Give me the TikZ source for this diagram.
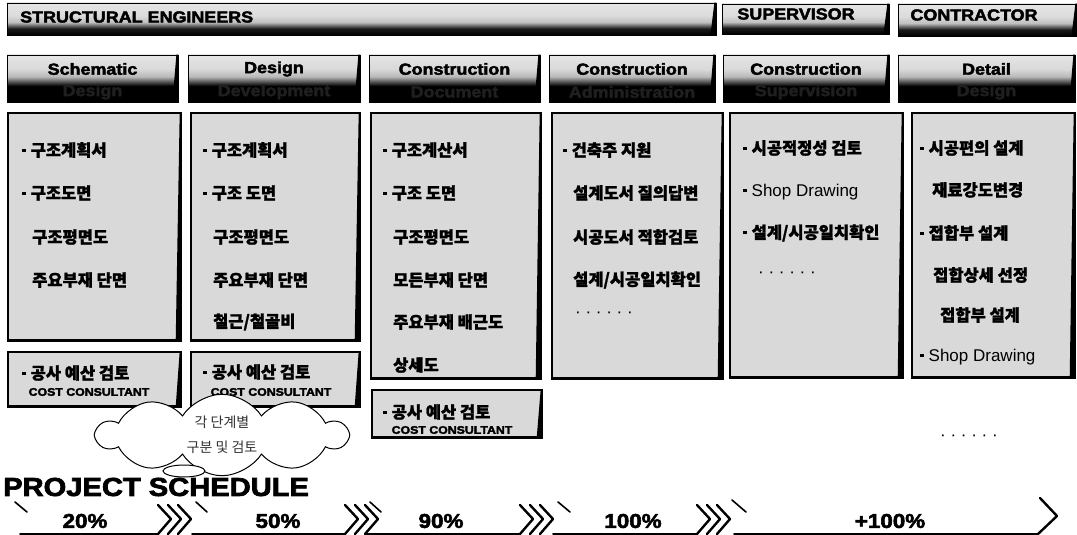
\documentclass[tikz,border=0pt]{standalone}
\usepackage{fontspec}
\usepackage{graphicx}
\setmainfont{Liberation Sans}
\newfontfamily\ko{Noto Sans CJK KR}[BoldFeatures={FakeBold=1.5}]
\newfontfamily\heavy{Liberation Sans Bold}[FakeBold=2.5]
\usetikzlibrary{shapes.symbols,shapes.geometric}
\pgfdeclareverticalshading{hdrshade}{100bp}{color(0bp)=(black); color(25bp)=(black); color(42bp)=(black); color(52bp)=(gray!55); color(60bp)=(gray!30); color(75bp)=(gray!20); color(100bp)=(gray!20)}
\pgfdeclareverticalshading{barshade}{100bp}{color(0bp)=(black); color(25bp)=(black); color(35bp)=(black!90); color(45bp)=(gray!50); color(55bp)=(gray!28); color(75bp)=(gray!20); color(100bp)=(gray!20)}
\newcommand{\bul}{\rule[0.25em]{3.5pt}{3.5pt}\hspace{5pt}}
\newcommand{\hv}[1]{\scalebox{1.12}[1]{#1}}
\tikzset{
  hdrbox/.style={rectangle, shade, shading=hdrshade, draw=black, line width=0.8pt, inner sep=0},
  barbox/.style={rectangle, shade, shading=barshade, draw=black, line width=0.8pt, inner sep=0},
  cbox/.style={rectangle, fill=gray!30, draw=black, line width=1.4pt, inner sep=0},
  item/.style={anchor=west, inner sep=0, font=\ko\bfseries\fontsize{16.5}{18}\selectfont},
  latitem/.style={anchor=west, inner sep=0, font=\fontsize{17}{19}\selectfont},
  hdrtxt/.style={inner sep=0, font=\heavy\fontsize{16}{18}\selectfont},
  hdrtxtb/.style={inner sep=0, text=black!88, font=\heavy\fontsize{16}{18}\selectfont},
  costtxt/.style={inner sep=0, font=\heavy\fontsize{11}{12}\selectfont},
  dots/.style={anchor=west, inner sep=0, font=\fontsize{17}{19}\selectfont},
  pct/.style={inner sep=0, font=\heavy\fontsize{20}{22}\selectfont},
  chev/.style={line width=2.4pt, line cap=round, line join=round},
  baseln/.style={line width=1.6pt, line cap=round},
  tick/.style={line width=1.6pt, line cap=round}
}
\begin{document}
\begin{tikzpicture}[x=1pt,y=-1pt]
\useasboundingbox[fill=white] (0,0) rectangle (1077,535);

% ---- top role bars
\node[barbox, minimum width=709pt, minimum height=32pt] (se) at (361.5,19) {};
\node[barbox, minimum width=167pt, minimum height=30pt] (sup) at (805.5,19) {};
\node[barbox, minimum width=179pt, minimum height=32pt] (con) at (987.5,20) {};
\node[hdrtxt, anchor=west] (set) at (20,17) {\hv{STRUCTURAL ENGINEERS}};
\node[hdrtxt] (supt) at (796,14) {\hv{SUPERVISOR}};
\node[hdrtxt] (cont) at (974,15) {\hv{CONTRACTOR}};

% ---- phase headers
\node[hdrbox, minimum width=171pt, minimum height=47pt] (h1) at (92.5,78.5) {};
\node[hdrbox, minimum width=172pt, minimum height=47pt] (h2) at (274,78.5) {};
\node[hdrbox, minimum width=171pt, minimum height=47pt] (h3) at (454.5,78.5) {};
\node[hdrbox, minimum width=166pt, minimum height=47pt] (h4) at (632,78.5) {};
\node[hdrbox, minimum width=166pt, minimum height=47pt] (h5) at (806,78.5) {};
\node[hdrbox, minimum width=177pt, minimum height=47pt] (h6) at (986.5,78.5) {};
\foreach \n/\a/\b in {h1/Schematic/Design, h2/Design/Development, h3/Construction/Document, h4/Construction/Administration, h5/Construction/Supervision, h6/Detail/Design}{
  \node[hdrtxt] (\n a) at ([yshift=9.5pt]\n.center) {\hv{\a}};
  \node[hdrtxtb] (\n b) at ([yshift=-13.5pt]\n.center) {\hv{\b}};
}

% ---- content boxes
\node[cbox, minimum width=173pt, minimum height=227pt] (c1) at (94.5,226.5) {};
\node[cbox, minimum width=169pt, minimum height=227pt] (c2) at (275.5,226.5) {};
\node[cbox, minimum width=170pt, minimum height=265pt] (c3) at (456,245.5) {};
\node[cbox, minimum width=171pt, minimum height=265pt] (c4) at (637.5,245.5) {};
\node[cbox, minimum width=173pt, minimum height=264pt] (c5) at (816.5,245) {};
\node[cbox, minimum width=163pt, minimum height=264pt] (c6) at (993.5,245) {};

% ---- cost boxes
\node[cbox, minimum width=173pt, minimum height=54pt] (k1) at (94.5,379) {};
\node[cbox, minimum width=169pt, minimum height=54pt] (k2) at (275.5,379) {};
\node[cbox, minimum width=170pt, minimum height=47pt] (k3) at (457,413.5) {};

% 3D dark right edges
\foreach \n in {se,sup,con,h1,h2,h3,h4,h5,h6,c1,c2,c3,c4,c5,c6,k1,k2,k3}{
  \fill[black] (\n.north east) -- ++(-2,0) -- ([xshift=-6pt]\n.south east) -- (\n.south east) -- cycle;
}
\foreach \n in {c1,c2,c3,c4,c5,c6,k1,k2,k3}{
  \draw[black, line width=2.2pt] (\n.south west) -- (\n.south east);
}

% ---- column 1
\node[item] (t11) at (22,150) {\bul 구조계획서};
\node[item] (t12) at (22,193) {\bul 구조도면};
\node[item] (t13) at (32,237) {구조평면도};
\node[item] (t14) at (32,280) {주요부재 단면};
% ---- column 2
\node[item] (t21) at (203,150) {\bul 구조계획서};
\node[item] (t22) at (203,193) {\bul 구조 도면};
\node[item] (t23) at (213,237) {구조평면도};
\node[item] (t24) at (213,280) {주요부재 단면};
\node[item] (t25) at (213,322) {철근/철골비};
% ---- column 3
\node[item] (t31) at (383,150) {\bul 구조계산서};
\node[item] (t32) at (383,193) {\bul 구조 도면};
\node[item] (t33) at (393,237) {구조평면도};
\node[item] (t34) at (393,280) {모든부재 단면};
\node[item] (t35) at (393,322) {주요부재 배근도};
\node[item] (t36) at (393,365) {상세도};
% ---- column 4
\node[item] (t41) at (563,150) {\bul 건축주 지원};
\node[item] (t42) at (573,193) {설계도서 질의답변};
\node[item] (t43) at (573,237) {시공도서 적합검토};
\node[item] (t44) at (573,280) {설계/시공일치확인};
\node[dots] (t45) at (575,315) {· · · · · ·};
% ---- column 5
\node[item] (t51) at (743,148) {\bul 시공적정성 검토};
\node[latitem] (t52) at (743,192) {\bul Shop Drawing};
\node[item] (t53) at (743,233) {\bul 설계/시공일치확인};
\node[dots] (t54) at (758,275) {· · · · · ·};
% ---- column 6
\node[item] (t61) at (920,148) {\bul 시공편의 설계};
\node[item] (t62) at (932,190) {재료강도변경};
\node[item] (t63) at (920,233) {\bul 접합부 설계};
\node[item] (t64) at (933,275) {접합상세 선정};
\node[item] (t65) at (940,315) {접합부 설계};
\node[latitem] (t66) at (920,357) {\bul Shop Drawing};

% ---- cost texts
\node[item] (k1a) at (22,373) {\bul 공사 예산 검토};
\node[costtxt] (k1b) at (89,392) {\hv{COST CONSULTANT}};
\node[item] (k2a) at (203,372) {\bul 공사 예산 검토};
\node[costtxt] (k2b) at (271,392) {\hv{COST CONSULTANT}};
\node[item] (k3a) at (383,412) {\bul 공사 예산 검토};
\node[costtxt] (k3b) at (452,430) {\hv{COST CONSULTANT}};

\node[dots] (dd) at (940,438) {· · · · · ·};

% ---- thought cloud
\node[cloud, draw=black, fill=white, line width=1pt, cloud puffs=10, cloud puff arc=115, aspect=3.4,
      minimum width=250pt, minimum height=68pt, inner sep=0, align=center,
      font=\ko\fontsize{14}{25}\selectfont, text=black!80] (cl) at (222,435) {각 단계별\\구분 및 검토};
\node[ellipse, draw=black, line width=1pt, fill=white, minimum width=42pt, minimum height=12pt, inner sep=0] (bub) at (184,471) {};

% ---- project schedule
\node[anchor=west, inner sep=0, font=\heavy\fontsize{26}{30}\selectfont] (ps) at (3,487) {\hv{PROJECT SCHEDULE}};

% segment 1
\draw[tick] (15,502) -- (27,512);
\draw[baseln] (20,534) -- (158,534);
\foreach \x in {158,168,178} \draw[chev] (\x,505) -- (\x+13,519) -- (\x,534);
% segment 2
\draw[tick] (196,502) -- (207,512);
\draw[baseln] (192,534) -- (345,534);
\foreach \x in {345,355,365} \draw[chev] (\x,505) -- (\x+13,519) -- (\x,534);
% segment 3
\draw[tick] (370,502) -- (381,512);
\draw[baseln] (366,534) -- (520,534);
\foreach \x in {520,530,540} \draw[chev] (\x,505) -- (\x+13,519) -- (\x,534);
% segment 4
\draw[tick] (558,502) -- (570,512);
\draw[baseln] (553,534) -- (697,534);
\foreach \x in {697,707,717} \draw[chev] (\x,505) -- (\x+13,519) -- (\x,534);
% segment 5
\draw[tick] (732,500) -- (746,512);
\draw[baseln] (734,534) -- (1037,534);
\draw[chev] (1040,498) -- (1057,516) -- (1038,534);

\node[pct] (p1) at (85,521) {\hv{20\%}};
\node[pct] (p2) at (278,521) {\hv{50\%}};
\node[pct] (p3) at (441,521) {\hv{90\%}};
\node[pct] (p4) at (633,521) {\hv{100\%}};
\node[pct] (p5) at (890,521) {\hv{+100\%}};
\end{tikzpicture}
\end{document}
